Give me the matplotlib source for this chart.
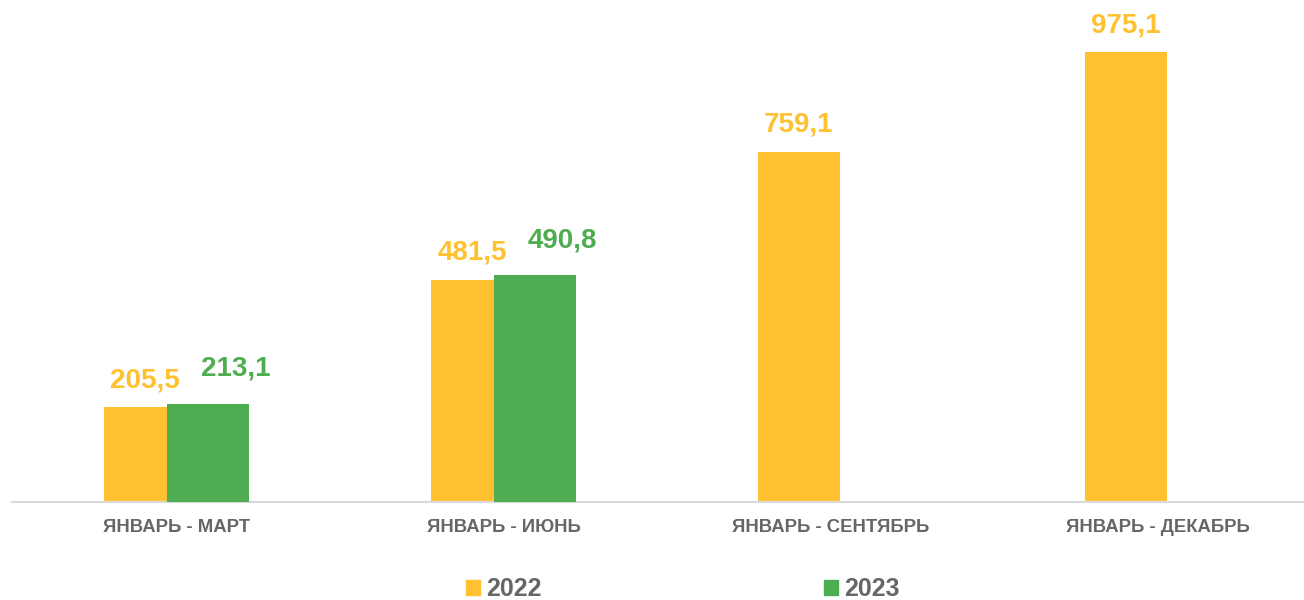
import matplotlib
matplotlib.use("Agg")
from matplotlib import pyplot as plt
from matplotlib.patches import Patch

categories = ["ЯНВАРЬ - МАРТ", "ЯНВАРЬ - ИЮНЬ", "ЯНВАРЬ - СЕНТЯБРЬ", "ЯНВАРЬ - ДЕКАБРЬ"]
years = ["2022", "2023"]
values_2022 = [205.5, 481.5, 759.1, 975.1]
values_2023 = [213.1, 490.8]

orange = "#FFC12F"
green = "#4EAD50"
gray = "#666666"

plt.rcParams["font.family"] = ["Liberation Sans", "DejaVu Sans"]
plt.rcParams["font.weight"] = "bold"

W, H = 1304, 600
fig = plt.figure(figsize=(W / 100, H / 100), dpi=100)
# axes placed in pixels: baseline at y=502, left edge 12, right edge 1303
ax = fig.add_axes([12 / W, 98 / H, 1291 / W, 461.5 / H])

step = 327.0  # px per category
bw = 82 / step
off = 31.5 / step

x1 = [i - off for i in range(len(values_2022))]
x2 = [i + off for i in range(len(values_2023))]
ax.bar(x1, values_2022, width=bw, color=orange, zorder=2)
ax.bar(x2, values_2023, width=bw, color=green, zorder=3)

for x, v in zip(x1, values_2022):
    ax.annotate(f"{v:.1f}".replace(".", ","), (x, v), xytext=(0, 10), textcoords="offset points",
                ha="center", va="bottom", color=orange, fontsize=20, fontweight="bold")
for x, v in zip(x2, values_2023):
    ax.annotate(f"{v:.1f}".replace(".", ","), (x, v), xytext=(20, 16), textcoords="offset points",
                ha="center", va="bottom", color=green, fontsize=20, fontweight="bold")

ax.set_xlim(-0.503, 3.445)
ax.set_ylim(0, 1000)
ax.set_xticks(range(len(categories)))
ax.set_xticklabels(categories, fontsize=13.3, fontweight="bold", color=gray)
ax.tick_params(axis="x", length=0, pad=12)
ax.set_yticks([])
for s in ["top", "right", "left"]:
    ax.spines[s].set_visible(False)
ax.spines["bottom"].set_color("#D9D9D9")
ax.spines["bottom"].set_linewidth(1.5)

handles = [Patch(color=orange), Patch(color=green)]
fig.legend(handles, years, loc="center", bbox_to_anchor=(683 / W, 11 / H), ncol=2, frameon=False,
           handlelength=0.56, handleheight=0.56, handletextpad=0.25,
           columnspacing=11.3, prop={"weight": "bold", "size": 18}, labelcolor=gray)

fig.savefig("out.png", dpi=100)
